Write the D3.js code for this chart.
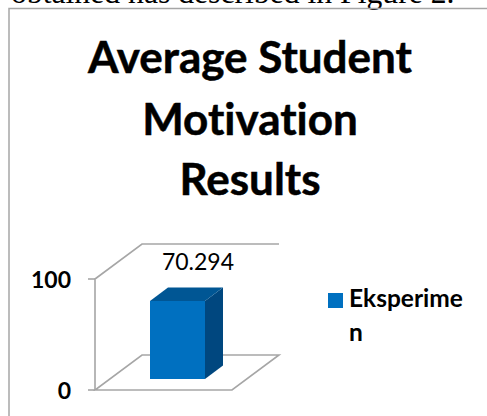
<!DOCTYPE html>
<html>
<head>
<meta charset="utf-8">
<script src="https://cdn.jsdelivr.net/npm/d3@7"></script>
<style>
  html, body { margin: 0; padding: 0; background: #fff; overflow: hidden; }
  text { font-variant-ligatures: none; }
</style>
</head>
<body>
<div id="chart"></div>
<script>
// Data
const categories = ["Eksperimen"]
const values = [70.294]
const yTicks = [0, 100]
const titleLines = ["Average Student", "Motivation", "Results"]
const legendLines = ["Eksperime", "n"]
const captionText = "obtained has described in Figure 2."

const width = 487
const height = 416
const labelFont = "Lato, Carlito, 'Open Sans', sans-serif"

const svg = d3.select("#chart").append("svg")
    .attr("width", width)
    .attr("height", height)
    .style("display", "block")

// Line of body text cut off above the chart
svg.append("text")
    .attr("x", 11)
    .attr("y", 3)
    .attr("font-family", "'Liberation Serif', serif")
    .attr("font-size", 31.7)
    .attr("fill", "#000")
    .text(captionText)

// Chart frame, open on the right and the bottom
svg.append("path")
    .attr("d", d3.line()([[9, height], [9, 8.5], [width, 8.5]]))
    .attr("fill", "none")
    .attr("stroke", "#a6a6a6")
    .attr("stroke-width", 1.5)

// Title
svg.append("g").selectAll("text")
    .data(titleLines)
    .join("text")
    .attr("x", 250)
    .attr("y", (d, i) => [73, 135, 195][i])
    .attr("text-anchor", "middle")
    .attr("font-family", labelFont)
    .attr("font-weight", 700)
    .attr("font-size", 44)
    .attr("fill", "#000")
    .attr("stroke", "#000")
    .attr("stroke-width", 0.5)
    .text(d => d)

// Scales
const yScale = d3.scaleLinear().domain([0, 100]).range([390, 279])
const xScale = d3.scaleBand().domain(categories).range([95, 232]).padding(0.2)

// 3D offsets of the plot box and of the bar
const depth = { x: 47, y: -35 }
const barDepth = { x: 18, y: -13.5 }
const barLift = 11
const barWidth = 55
const barShift = 14

const wallColor = "#a6a6a6"
const walls = svg.append("g")
    .attr("fill", "none")
    .attr("stroke", wallColor)
    .attr("stroke-width", 1.6)

const x0 = xScale.range()[0]
const x1 = xScale.range()[1]

// Floor
walls.append("path")
    .attr("d", d3.line()([
      [x0, yScale(0)], [x1, yScale(0)],
      [x1 + depth.x, yScale(0) + depth.y], [x0 + depth.x, yScale(0) + depth.y]
    ]) + "Z")

// Left and back walls
walls.append("path")
    .attr("d", d3.line()([
      [x0, yScale(0)], [x0, yScale(100)],
      [x0 + depth.x, yScale(100) + depth.y], [x1 + depth.x, yScale(100) + depth.y]
    ]))

// Tick marks and labels
walls.selectAll("line")
    .data(yTicks)
    .join("line")
    .attr("x1", x0 - 7)
    .attr("x2", x0)
    .attr("y1", d => yScale(d))
    .attr("y2", d => yScale(d))

svg.append("g").selectAll("text")
    .data(yTicks)
    .join("text")
    .attr("x", 71)
    .attr("y", d => yScale(d) + 9)
    .attr("text-anchor", "end")
    .attr("font-family", labelFont)
    .attr("font-weight", 700)
    .attr("font-size", 23)
    .attr("fill", "#000")
    .text(d => d)

// Bar: front, top and side faces
const bar = svg.append("g").selectAll("g")
    .data(values)
    .join("g")

const left = (d, i) => xScale(categories[i]) + (xScale.bandwidth() - barWidth) / 2 + barShift
const top_ = d => yScale(d) - barLift
const bottom = yScale(0) - barLift

bar.append("path")
    .attr("fill", "#00477f")
    .attr("d", (d, i) => {
      const r = left(d, i) + barWidth
      return d3.line()([
        [r, top_(d)], [r + barDepth.x, top_(d) + barDepth.y],
        [r + barDepth.x, bottom + barDepth.y], [r, bottom]
      ]) + "Z"
    })

bar.append("path")
    .attr("fill", "#005694")
    .attr("d", (d, i) => {
      const l = left(d, i)
      return d3.line()([
        [l, top_(d)], [l + barDepth.x, top_(d) + barDepth.y],
        [l + barWidth + barDepth.x, top_(d) + barDepth.y], [l + barWidth, top_(d)]
      ]) + "Z"
    })

bar.append("rect")
    .attr("fill", "#0070c0")
    .attr("x", left)
    .attr("y", top_)
    .attr("width", barWidth)
    .attr("height", d => bottom - top_(d))

// Value label
svg.append("g").selectAll("text")
    .data(values)
    .join("text")
    .attr("x", 198)
    .attr("y", 270)
    .attr("text-anchor", "middle")
    .attr("font-family", labelFont)
    .attr("font-size", 23)
    .attr("fill", "#000")
    .text(d => d3.format(".3f")(d))

// Legend
svg.append("rect")
    .attr("x", 328)
    .attr("y", 293)
    .attr("width", 15)
    .attr("height", 15)
    .attr("fill", "#0070c0")

svg.append("g").selectAll("text")
    .data(legendLines)
    .join("text")
    .attr("x", 349)
    .attr("y", (d, i) => 307 + i * 34)
    .attr("font-family", labelFont)
    .attr("font-weight", 700)
    .attr("font-size", 24.5)
    .attr("fill", "#000")
    .text(d => d)
</script>
</body>
</html>
